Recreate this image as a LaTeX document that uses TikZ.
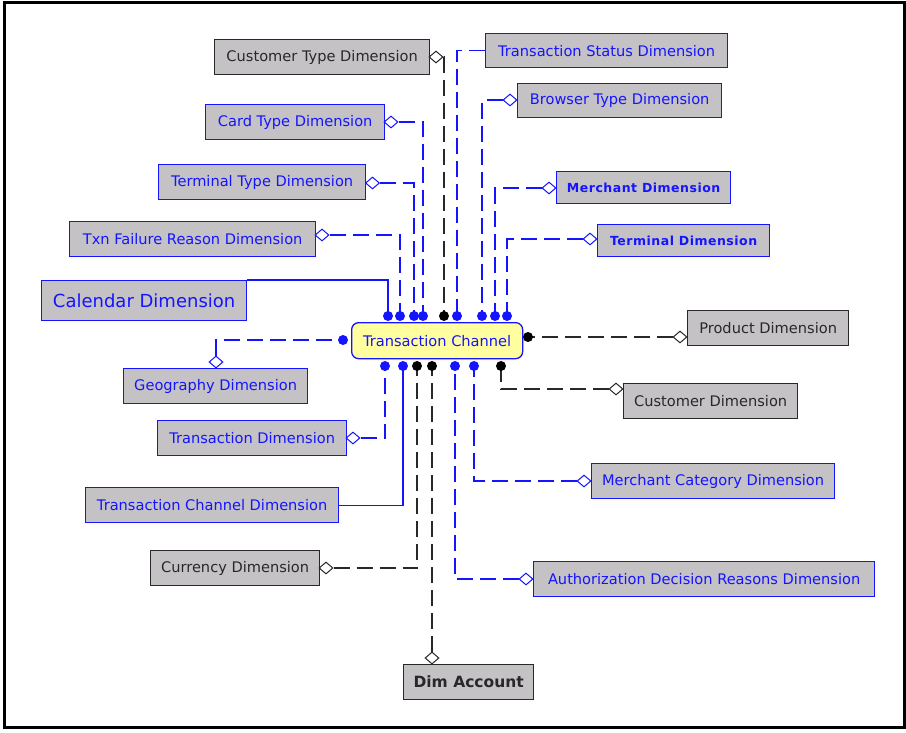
\documentclass[tikz,border=0pt]{standalone}
\usepackage{fontspec}
\setmainfont{DejaVu Sans}
\usetikzlibrary{shapes.geometric}
\pgfdeclarelayer{bg}
\pgfsetlayers{bg,main}
\definecolor{eblue}{RGB}{20,20,255}
\definecolor{egray}{RGB}{197,194,197}
\definecolor{eyellow}{RGB}{255,255,160}
\definecolor{eblack}{RGB}{40,40,40}
\tikzset{
  ent/.style={rectangle, fill=egray, line width=1.3pt, inner sep=0pt, anchor=north west,
    font=\fontsize{14.6}{16}\selectfont},
  bent/.style={ent, draw=eblue, text=eblue},
  kent/.style={ent, draw=eblack, text=eblack},
  boldtxt/.style={font=\fontsize{12.5}{14}\selectfont\bfseries\addfontfeature{LetterSpace=4}},
  dia/.style={diamond, fill=white, minimum width=14pt, minimum height=12pt, inner sep=0pt, line width=1pt},
  bdia/.style={dia, draw=eblue},
  kdia/.style={dia, draw=eblack},
  bline/.style={draw=eblue, line width=1.3pt, dash pattern=on 16pt off 7pt},
  kline/.style={draw=eblack, line width=1.3pt, dash pattern=on 16pt off 7pt},
  bsolid/.style={draw=eblue, line width=1.3pt},
  bdot/.style={circle, fill=eblue, inner sep=0pt, minimum size=10pt},
  kdot/.style={circle, fill=black, inner sep=0pt, minimum size=10pt},
}
\begin{document}
\begin{tikzpicture}[x=1pt,y=-1pt]
\useasboundingbox (0,0) rectangle (906,732);
\draw[line width=3pt] (4.5,2.5) rectangle (904,727.5);

% entity boxes
\node[kent, minimum width=215pt, minimum height=35pt] (ctype) at (214,39) {Customer Type Dimension};
\node[bent, minimum width=242pt, minimum height=34pt] (tstat) at (485,33) {Transaction Status Dimension};
\node[bent, minimum width=204pt, minimum height=34pt] (browser) at (517,83) {Browser Type Dimension};
\node[bent, minimum width=179pt, minimum height=35pt] (card) at (205,104) {Card Type Dimension};
\node[bent, minimum width=207pt, minimum height=35pt] (termtype) at (158,164) {Terminal Type Dimension};
\node[bent, boldtxt, minimum width=174pt, minimum height=32pt] (merchant) at (556,171) {Merchant Dimension};
\node[bent, boldtxt, minimum width=172pt, minimum height=32pt] (terminal) at (597,224) {Terminal Dimension};
\node[bent, minimum width=246pt, minimum height=35pt] (txnfail) at (69,221) {Txn Failure Reason Dimension};
\node[bent, font=\fontsize{18}{20}\selectfont, minimum width=205pt, minimum height=40pt] (cal) at (41,280) {Calendar Dimension};
\node[rectangle, rounded corners=7pt, fill=eyellow, draw=eblue, text=eblue, line width=1.3pt,
      inner sep=0pt, anchor=north west, font=\fontsize{14.6}{16}\selectfont,
      minimum width=171pt, minimum height=36pt] (chan) at (351,322) {Transaction Channel};
\node[kent, minimum width=161pt, minimum height=35pt] (prod) at (687,310) {Product Dimension};
\node[kent, minimum width=174pt, minimum height=35pt] (cust) at (623,383) {Customer Dimension};
\node[bent, minimum width=243pt, minimum height=35pt] (mcat) at (591,463) {Merchant Category Dimension};
\node[bent, minimum width=184pt, minimum height=35pt] (geo) at (123,368) {Geography Dimension};
\node[bent, minimum width=189pt, minimum height=35pt] (tdim) at (157,420) {Transaction Dimension};
\node[bent, minimum width=253pt, minimum height=35pt] (tcdim) at (85,487) {Transaction Channel Dimension};
\node[kent, minimum width=169pt, minimum height=35pt] (cur) at (150,550) {Currency Dimension};
\node[kent, font=\fontsize{15.5}{17}\selectfont\bfseries, minimum width=130pt, minimum height=35pt] (acc) at (403,664) {Dim Account};
\node[bent, minimum width=341pt, minimum height=35pt] (auth) at (533,561) {Authorization Decision Reasons Dimension};

% diamonds
\node[kdia] (dct) at (436,57) {};
\node[bdia] (dbr) at (510,100) {};
\node[bdia] (dcard) at (391,122) {};
\node[bdia] (dtt) at (372.5,183) {};
\node[bdia] (dmer) at (549,188) {};
\node[bdia] (dterm) at (590,239) {};
\node[bdia] (dtf) at (322,235) {};
\node[kdia] (dprod) at (680,337) {};
\node[kdia] (dcus) at (616,389) {};
\node[bdia] (dmcat) at (584,481) {};
\node[bdia] (dgeo) at (216,362) {};
\node[bdia] (dtdim) at (353,438) {};
\node[kdia] (dcur) at (326,568) {};
\node[kdia] (dacc) at (432,658) {};
\node[bdia] (dauth) at (526,579) {};

% relationship dots
\node[bdot] (t1) at (388,316) {};
\node[bdot] (t2) at (400,316) {};
\node[bdot] (t3) at (414,316) {};
\node[bdot] (t4) at (423,316) {};
\node[kdot] (t5) at (444,316) {};
\node[bdot] (t6) at (457,316) {};
\node[bdot] (t7) at (482,316) {};
\node[bdot] (t8) at (495,316) {};
\node[bdot] (t9) at (507,316) {};
\node[bdot] (l1) at (343,340) {};
\node[kdot] (r1) at (528,337) {};
\node[bdot] (b1) at (385,366) {};
\node[bdot] (b2) at (403,366) {};
\node[kdot] (b3) at (417,366) {};
\node[kdot] (b4) at (432,366) {};
\node[bdot] (b5) at (455,366) {};
\node[bdot] (b6) at (474,366) {};
\node[kdot] (b7) at (501,366) {};

% connectors
\begin{pgfonlayer}{bg}
\draw[bsolid] (cal.north east) -| (t1.center);
\draw[bline] (dtf.east) -| (t2.center);
\draw[bline] (dtt.east) -| (t3.center);
\draw[bline] (dcard.east) -| (t4.center);
\draw[kline] (dct.east) -| (t5.center);
\draw[bline] (tstat.west) -| (t6.center);
\draw[bline] (dbr.west) -| (t7.center);
\draw[bline] (dmer.west) -| (t8.center);
\draw[bline] (dterm.west) -| (t9.center);
\draw[bline] (dgeo.north) |- (l1.center);
\draw[kline] (dprod.west) -- (r1.center);
\draw[bline] (dtdim.east) -| (b1.center);
\draw[bsolid] (tcdim.east) -| (b2.center);
\draw[kline] (dcur.east) -| (b3.center);
\draw[kline] (dacc.north) -- (b4.center);
\draw[bline] (dauth.west) -| (b5.center);
\draw[bline] (dmcat.west) -| (b6.center);
\draw[kline] (dcus.west) -| (b7.center);
\end{pgfonlayer}
\end{tikzpicture}
\end{document}
